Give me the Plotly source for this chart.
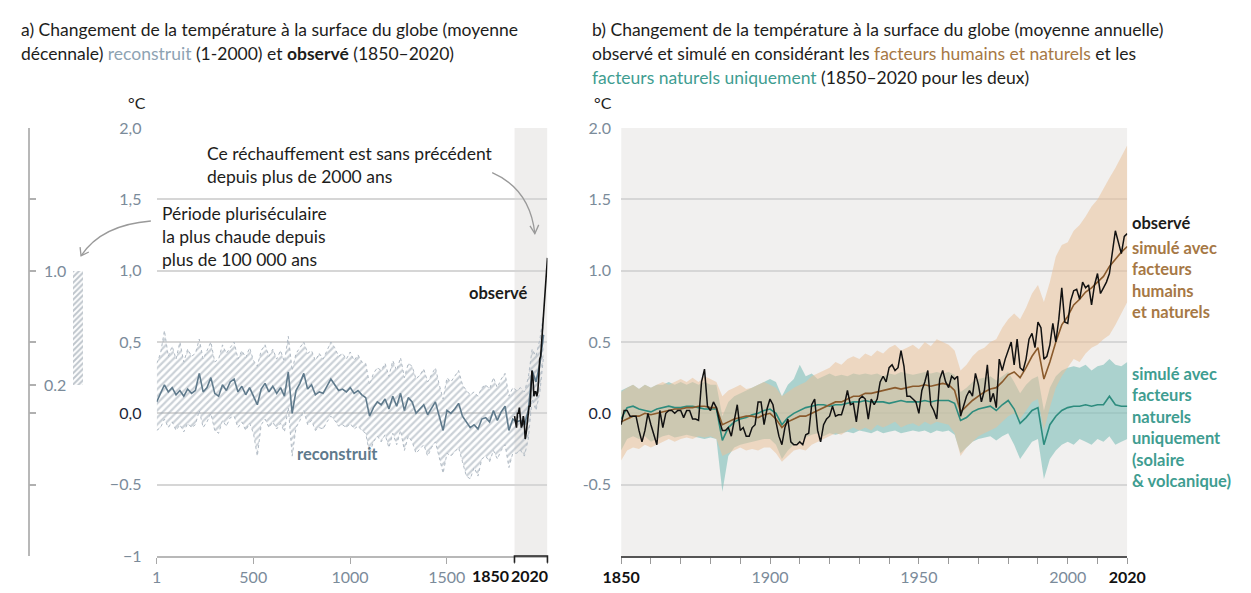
import plotly.graph_objects as go

W, H = 1251, 593
def px(x): return x / W
def py(y): return 1 - y / H

# ---------------- data: panel a (decadal reconstruction) ----------------
recon_years = list(range(1, 1982, 20)) + [2000]
recon_mid = [
    0.08, 0.14, 0.20, 0.15, 0.18, 0.13, 0.16, 0.12, 0.17, 0.14,
    0.16, 0.28, 0.15, 0.18, 0.25, 0.14, 0.12, 0.20, 0.16, 0.22,
    0.24, 0.15, 0.19, 0.13, 0.18, 0.12, 0.06, 0.17, 0.21, 0.15,
    0.19, 0.14, 0.18, 0.12, 0.29, 0.00, 0.16, 0.21, 0.28, 0.17,
    0.20, 0.13, 0.15, 0.14, 0.19, 0.24, 0.20, 0.16, 0.17, 0.15,
    0.18, 0.14, 0.16, 0.13, 0.11, -0.02, 0.04, 0.08, 0.06, 0.10,
    0.03, 0.12, 0.05, 0.14, 0.02, 0.11, 0.08, 0.00, 0.03, 0.06,
    -0.01, 0.04, 0.08, -0.02, -0.12, 0.02, 0.00, 0.03, 0.07, -0.02,
    -0.06, -0.10, -0.08, -0.11, -0.04, -0.03, -0.06, 0.02, -0.05, 0.01,
    0.05, -0.12, -0.04, -0.06, -0.05, -0.08, 0.02, 0.30, 0.22, 0.35,
    0.55]
recon_hi = [
    0.35, 0.42, 0.58, 0.40, 0.47, 0.38, 0.50, 0.36, 0.45, 0.40,
    0.42, 0.52, 0.38, 0.44, 0.50, 0.36, 0.38, 0.48, 0.42, 0.46,
    0.50, 0.38, 0.44, 0.39, 0.46, 0.37, 0.33, 0.44, 0.48, 0.40,
    0.45, 0.38, 0.44, 0.36, 0.54, 0.30, 0.42, 0.46, 0.50, 0.42,
    0.44, 0.37, 0.42, 0.38, 0.44, 0.50, 0.46, 0.40, 0.42, 0.38,
    0.43, 0.37, 0.41, 0.36, 0.35, 0.20, 0.28, 0.32, 0.30, 0.35,
    0.26, 0.37, 0.30, 0.39, 0.25, 0.35, 0.33, 0.24, 0.27, 0.31,
    0.22, 0.27, 0.32, 0.20, 0.10, 0.25, 0.22, 0.26, 0.30, 0.20,
    0.16, 0.13, 0.15, 0.12, 0.18, 0.20, 0.17, 0.25, 0.18, 0.24,
    0.28, 0.12, 0.18, 0.16, 0.18, 0.15, 0.25, 0.45, 0.40, 0.52,
    0.70]
recon_lo = [
    -0.12, -0.10, -0.04, -0.10, -0.06, -0.12, -0.08, -0.13, -0.07, -0.10,
    -0.08, 0.02, -0.10, -0.06, 0.00, -0.12, -0.14, -0.05, -0.09, -0.03,
    -0.02, -0.10, -0.06, -0.12, -0.07, -0.14, -0.30, -0.08, -0.04, -0.10,
    -0.06, -0.11, -0.07, -0.13, 0.04, -0.30, -0.10, -0.05, 0.02, -0.08,
    -0.05, -0.12, -0.10, -0.11, -0.06, -0.02, -0.05, -0.09, -0.08, -0.10,
    -0.07, -0.11, -0.09, -0.12, -0.14, -0.28, -0.20, -0.16, -0.20, -0.15,
    -0.24, -0.14, -0.22, -0.12, -0.26, -0.16, -0.20, -0.28, -0.25, -0.22,
    -0.30, -0.24, -0.20, -0.32, -0.42, -0.28, -0.30, -0.27, -0.24, -0.34,
    -0.44, -0.46, -0.38, -0.44, -0.32, -0.30, -0.34, -0.26, -0.32, -0.26,
    -0.22, -0.38, -0.28, -0.28, -0.26, -0.30, -0.18, 0.10, 0.02, 0.15,
    0.40]

obs_dec_years = list(range(1850, 2021, 5))
obs_dec = [
    -0.02, -0.06, -0.10, 0.00, 0.00, 0.04, -0.02, -0.10, -0.08, -0.02,
    -0.06, -0.18, -0.14, -0.08, 0.00, 0.05, 0.05, 0.15, 0.30, 0.25,
    0.12, 0.15, 0.15, 0.12, 0.15, 0.25, 0.38, 0.40, 0.50, 0.60,
    0.72, 0.85, 0.92, 1.05, 1.09]

# paleo range bar (warmest multi-century period)
paleo_low, paleo_high = 0.2, 1.0

# ---------------- data: panel b (annual) ----------------
obs_years = list(range(1850, 2021))
obs_annual = [
    -0.08, 0.02, 0.02, -0.02, -0.02, -0.02, -0.12, -0.20, -0.12, 0.00,
    -0.08, -0.15, -0.22, 0.02, -0.10, 0.00, 0.02, 0.02, 0.00, 0.02,
    0.02, -0.03, 0.02, 0.02, -0.04, -0.04, -0.05, 0.22, 0.31, 0.05,
    0.02, 0.08, 0.04, -0.05, -0.12, -0.12, -0.10, -0.16, -0.06, 0.06,
    -0.12, -0.10, -0.16, -0.16, -0.10, -0.08, 0.08, 0.08, -0.08, 0.03,
    0.10, 0.06, -0.06, -0.16, -0.22, -0.10, -0.04, -0.20, -0.22, -0.22,
    -0.20, -0.22, -0.15, -0.14, 0.06, 0.10, -0.12, -0.20, -0.08, -0.04,
    -0.02, 0.05, -0.02, -0.01, -0.01, 0.06, 0.16, 0.06, 0.07, -0.06,
    0.10, 0.12, 0.10, -0.04, 0.10, 0.06, 0.10, 0.22, 0.26, 0.22,
    0.32, 0.34, 0.30, 0.32, 0.44, 0.33, 0.12, 0.12, 0.10, 0.08,
    0.00, 0.16, 0.22, 0.30, 0.06, 0.02, -0.04, 0.24, 0.30, 0.22,
    0.18, 0.26, 0.24, 0.26, -0.02, 0.06, 0.12, 0.16, 0.12, 0.28,
    0.20, 0.08, 0.16, 0.34, 0.08, 0.14, 0.04, 0.38, 0.30, 0.38,
    0.44, 0.50, 0.34, 0.52, 0.32, 0.30, 0.38, 0.52, 0.56, 0.46,
    0.64, 0.60, 0.38, 0.40, 0.48, 0.63, 0.50, 0.66, 0.88, 0.64,
    0.63, 0.79, 0.86, 0.87, 0.80, 0.92, 0.88, 0.90, 0.76, 0.90,
    0.98, 0.84, 0.88, 0.92, 0.98, 1.13, 1.28, 1.20, 1.12, 1.24,
    1.26]

sim_years = list(range(1850, 2021, 2))
hn_mid = [
    -0.06, -0.04, -0.02, -0.02, 0.00, -0.01, 0.00, 0.01, 0.02, 0.03,
    0.03, 0.04, 0.04, 0.05, 0.05, 0.04, 0.04, -0.08, -0.06, -0.04,
    -0.03, -0.02, -0.02, -0.03, -0.01, 0.00, -0.04, -0.10, -0.06, -0.04,
    -0.02, -0.02, 0.00, 0.02, 0.04, 0.06, 0.08, 0.08, 0.10, 0.12,
    0.12, 0.14, 0.14, 0.15, 0.16, 0.17, 0.18, 0.17, 0.18, 0.19,
    0.19, 0.20, 0.19, 0.20, 0.21, 0.20, 0.16, 0.01, 0.05, 0.09,
    0.12, 0.15, 0.17, 0.18, 0.22, 0.27, 0.29, 0.25, 0.32, 0.40,
    0.46, 0.24, 0.36, 0.50, 0.62, 0.68, 0.76, 0.80, 0.85, 0.88,
    0.92, 0.96, 1.03, 1.08, 1.13, 1.17]
hn_hi = [
    0.15, 0.18, 0.20, 0.17, 0.20, 0.18, 0.20, 0.22, 0.20, 0.22,
    0.24, 0.22, 0.25, 0.22, 0.26, 0.24, 0.22, 0.12, 0.16, 0.18,
    0.20, 0.17, 0.18, 0.20, 0.22, 0.20, 0.18, 0.12, 0.15, 0.18,
    0.20, 0.22, 0.26, 0.28, 0.30, 0.32, 0.36, 0.34, 0.38, 0.40,
    0.38, 0.42, 0.40, 0.44, 0.42, 0.46, 0.48, 0.44, 0.46, 0.48,
    0.45, 0.50, 0.47, 0.52, 0.50, 0.48, 0.44, 0.30, 0.34, 0.40,
    0.44, 0.46, 0.50, 0.52, 0.60, 0.66, 0.70, 0.66, 0.74, 0.84,
    0.90, 0.78, 0.92, 1.10, 1.18, 1.20, 1.28, 1.32, 1.38, 1.45,
    1.50, 1.58, 1.65, 1.72, 1.80, 1.88]
hn_lo = [
    -0.33, -0.26, -0.24, -0.25, -0.22, -0.24, -0.22, -0.20, -0.18, -0.20,
    -0.18, -0.17, -0.18, -0.16, -0.17, -0.16, -0.18, -0.30, -0.28, -0.26,
    -0.24, -0.26, -0.25, -0.26, -0.24, -0.24, -0.28, -0.34, -0.30, -0.26,
    -0.25, -0.26, -0.22, -0.20, -0.18, -0.16, -0.14, -0.15, -0.12, -0.10,
    -0.12, -0.10, -0.12, -0.08, -0.10, -0.08, -0.06, -0.10, -0.08, -0.07,
    -0.09, -0.06, -0.08, -0.06, -0.07, -0.08, -0.14, -0.30, -0.24, -0.20,
    -0.16, -0.14, -0.12, -0.10, -0.06, -0.02, 0.00, -0.04, 0.02, 0.08,
    0.10, -0.12, 0.04, 0.18, 0.26, 0.32, 0.38, 0.36, 0.42, 0.46,
    0.48, 0.52, 0.55, 0.62, 0.70, 0.78]
nat_mid = [
    -0.04, 0.04, 0.05, 0.03, 0.02, 0.01, 0.03, 0.04, 0.05, 0.04,
    0.04, 0.05, 0.05, 0.04, 0.03, 0.03, 0.03, -0.19, -0.10, -0.06,
    -0.04, -0.03, -0.01, 0.00, 0.02, 0.03, 0.00, -0.08, -0.03, 0.00,
    0.02, 0.04, 0.05, 0.06, 0.06, 0.05, 0.06, 0.06, 0.07, 0.08,
    0.08, 0.09, 0.08, 0.08, 0.08, 0.07, 0.08, 0.09, 0.08, 0.08,
    0.08, 0.09, 0.08, 0.09, 0.09, 0.09, 0.07, -0.05, -0.03, 0.01,
    0.03, 0.04, 0.05, 0.02, 0.06, 0.09, 0.03, -0.07, -0.03, 0.02,
    0.04, -0.22, -0.08, -0.02, 0.02, 0.04, 0.05, 0.05, 0.06, 0.05,
    0.06, 0.06, 0.12, 0.06, 0.05, 0.05]
nat_hi = [
    0.16, 0.18, 0.20, 0.17, 0.20, 0.18, 0.20, 0.20, 0.22, 0.20,
    0.22, 0.20, 0.22, 0.20, 0.22, 0.20, 0.20, -0.02, 0.08, 0.12,
    0.14, 0.16, 0.18, 0.20, 0.22, 0.24, 0.22, 0.12, 0.20, 0.24,
    0.34, 0.26, 0.28, 0.24, 0.26, 0.28, 0.26, 0.27, 0.26, 0.28,
    0.27, 0.28, 0.27, 0.28, 0.26, 0.28, 0.27, 0.29, 0.28, 0.27,
    0.28, 0.29, 0.28, 0.29, 0.28, 0.29, 0.27, 0.15, 0.18, 0.22,
    0.24, 0.25, 0.26, 0.23, 0.26, 0.29, 0.22, 0.14, 0.20, 0.24,
    0.26, 0.02, 0.18, 0.26, 0.30, 0.32, 0.33, 0.32, 0.34, 0.30,
    0.33, 0.34, 0.38, 0.34, 0.33, 0.36]
nat_lo = [
    -0.26, -0.18, -0.16, -0.18, -0.16, -0.20, -0.18, -0.16, -0.15, -0.17,
    -0.16, -0.15, -0.16, -0.17, -0.18, -0.17, -0.18, -0.55, -0.30, -0.24,
    -0.22, -0.21, -0.20, -0.19, -0.18, -0.18, -0.22, -0.32, -0.26, -0.22,
    -0.20, -0.17, -0.15, -0.14, -0.16, -0.14, -0.15, -0.14, -0.13, -0.14,
    -0.12, -0.13, -0.14, -0.12, -0.14, -0.13, -0.12, -0.14, -0.13, -0.12,
    -0.13, -0.12, -0.14, -0.12, -0.13, -0.12, -0.15, -0.28, -0.24, -0.20,
    -0.18, -0.17, -0.16, -0.19, -0.16, -0.14, -0.22, -0.32, -0.26, -0.20,
    -0.18, -0.46, -0.32, -0.26, -0.22, -0.20, -0.22, -0.18, -0.20, -0.22,
    -0.18, -0.20, -0.16, -0.22, -0.20, -0.18]

# tick labels
left_y_vals = [2, 1.5, 1, 0.5, 0, -0.5, -1]
left_y_text = ["2,0", "1,5", "1,0", "0,5", "0,0", "\u22120.5", "\u22121"]
right_y_vals = [2, 1.5, 1, 0.5, 0, -0.5]
right_y_text = ["2.0", "1.5", "1.0", "0.5", "0.0", "-0.5"]
left_x_vals = [1, 500, 1000, 1500, 1850, 2020]
left_x_text = ["1", "500", "1000", "1500", "", ""]
left_x_bold = ["1850", "2020"]
right_x_vals = list(range(1850, 2021, 10))
right_x_labels = {1850: "1850", 1900: "1900", 1950: "1950", 2000: "2000", 2020: "2020"}

# ---------------- styling ----------------
FONT = "Lato"
TXT = "#1d1d1b"
TICK = "#7b8b9a"
DARK0 = "#1b2638"
RECON = "#5f7a8c"
RECON_LIGHT = "#8ea3b3"
BROWN_LINE = "#8a5a2c"
BROWN_TXT = "#a67845"
TEAL_LINE = "#2d8c7e"
TEAL_TXT = "#3f9d91"
GRID = "#d6d6d6"

fig = go.Figure()

fig.add_trace(go.Scatter(x=recon_years, y=recon_hi, mode="lines",
                         line=dict(color="#b0bac4", width=1, dash="dot"),
                         hoverinfo="skip", showlegend=False, xaxis="x", yaxis="y"))
fig.add_trace(go.Scatter(x=recon_years, y=recon_lo, mode="lines",
                         line=dict(color="#b0bac4", width=1, dash="dot"),
                         fill="tonexty", fillcolor="rgba(0,0,0,0)",
                         fillpattern=dict(shape="/", fgcolor="#97a4b0", bgcolor="rgba(255,255,255,0)",
                                          size=5, solidity=0.45),
                         hoverinfo="skip", showlegend=False, xaxis="x", yaxis="y"))
fig.add_trace(go.Scatter(x=recon_years, y=recon_mid, mode="lines",
                         line=dict(color=RECON, width=1.6), showlegend=False,
                         xaxis="x", yaxis="y"))
fig.add_trace(go.Scatter(x=obs_dec_years, y=obs_dec, mode="lines",
                         line=dict(color="#111111", width=1.6), showlegend=False,
                         xaxis="x", yaxis="y"))

fig.add_trace(go.Bar(x=[49.5], y=[paleo_high - paleo_low], base=[paleo_low], width=[11],
                     marker=dict(color="rgba(0,0,0,0)", line=dict(width=0),
                                 pattern=dict(shape="/", fgcolor="#7e8c99", bgcolor="white",
                                              size=4, solidity=0.5)),
                     showlegend=False, xaxis="x3", yaxis="y3"))

fig.add_trace(go.Scatter(x=sim_years, y=nat_hi, mode="lines", line=dict(width=0),
                         hoverinfo="skip", showlegend=False, xaxis="x2", yaxis="y2"))
fig.add_trace(go.Scatter(x=sim_years, y=nat_lo, mode="lines", line=dict(width=0),
                         fill="tonexty", fillcolor="rgba(125,190,183,0.6)",
                         hoverinfo="skip", showlegend=False, xaxis="x2", yaxis="y2"))
fig.add_trace(go.Scatter(x=sim_years, y=hn_hi, mode="lines", line=dict(width=0),
                         hoverinfo="skip", showlegend=False, xaxis="x2", yaxis="y2"))
fig.add_trace(go.Scatter(x=sim_years, y=hn_lo, mode="lines", line=dict(width=0),
                         fill="tonexty", fillcolor="rgba(234,192,152,0.52)",
                         hoverinfo="skip", showlegend=False, xaxis="x2", yaxis="y2"))
fig.add_trace(go.Scatter(x=sim_years, y=nat_mid, mode="lines",
                         line=dict(color=TEAL_LINE, width=1.6), showlegend=False,
                         xaxis="x2", yaxis="y2"))
fig.add_trace(go.Scatter(x=sim_years, y=hn_mid, mode="lines",
                         line=dict(color=BROWN_LINE, width=1.6), showlegend=False,
                         xaxis="x2", yaxis="y2"))
fig.add_trace(go.Scatter(x=obs_years, y=obs_annual, mode="lines",
                         line=dict(color="#111111", width=1.5), showlegend=False,
                         xaxis="x2", yaxis="y2"))

ydom = [py(564), py(122)]

def col(t, c):
    return f'<span style="color:{c}">{t}</span>'

left_y_ticktext = [col(t, DARK0) if v == 0 else t for v, t in zip(left_y_vals, left_y_text)]
right_y_ticktext = [col(t, DARK0) if v == 0 else t for v, t in zip(right_y_vals, right_y_text)]
right_x_ticktext = []
for v in right_x_vals:
    if v in (1850, 2020):
        right_x_ticktext.append("<b>%s</b>" % col(str(v), "#111111"))
    else:
        right_x_ticktext.append(right_x_labels.get(v, ""))

tickfont = dict(family=FONT, size=16, color=TICK)

fig.update_layout(
    width=W, height=H, margin=dict(l=0, r=0, t=0, b=0, pad=0), autosize=False,
    paper_bgcolor="white", plot_bgcolor="rgba(0,0,0,0)",
    font=dict(family=FONT, color=TXT),
    showlegend=False, bargap=0,
    xaxis=dict(domain=[px(142), px(545)], range=[1, 2020], showgrid=False, zeroline=False,
               tickvals=left_x_vals, ticktext=left_x_text, tickfont=tickfont, tickangle=0,
               ticks="outside", ticklen=6, tickcolor="#a8a8a8", tickwidth=1.2,
               showline=True, linecolor="#b8b8b8", linewidth=1.5, anchor="y"),
    yaxis=dict(domain=ydom, range=[-1, 2], showgrid=True, gridcolor=GRID, gridwidth=2,
               zeroline=False, tickvals=left_y_vals, ticktext=left_y_ticktext, tickfont=tickfont,
               ticks="outside", ticklen=11, tickcolor="rgba(0,0,0,0)", anchor="x",
               showline=False),
    xaxis2=dict(domain=[px(621), px(1143)], range=[1850, 2020], showgrid=False, zeroline=False,
                tickvals=right_x_vals, ticktext=right_x_ticktext, tickfont=tickfont, tickangle=0,
                ticks="outside", ticklen=6, tickcolor="#9a9a9a", tickwidth=1.2,
                showline=True, linecolor="#555555", linewidth=2, anchor="y2"),
    yaxis2=dict(domain=ydom, range=[-1, 2], showgrid=True, gridcolor=GRID, gridwidth=2,
                zeroline=False, tickvals=right_y_vals, ticktext=right_y_ticktext, tickfont=tickfont,
                ticks="outside", ticklen=6, tickcolor="rgba(0,0,0,0)", anchor="x2",
                showline=False),
    xaxis3=dict(domain=[px(11), px(71)], range=[0, 60], visible=False, anchor="y3"),
    yaxis3=dict(domain=ydom, range=[-1, 2], showgrid=False, zeroline=False,
                tickvals=[2, 1.5, 1, 0.5, 0.2, 0, -0.5, -1], showticklabels=False,
                ticks="inside", ticklen=7, tickcolor="#b0b0b0", tickwidth=1.5,
                showline=True, linecolor="#b8b8b8", linewidth=1.5, anchor="x3"),
)

shapes = [
    dict(type="rect", xref="x", yref="y domain", x0=1850, x1=2020, y0=0, y1=1,
         fillcolor="#efeeed", line=dict(width=0), layer="below"),
    dict(type="rect", xref="x2", yref="y2 domain", x0=1850, x1=2020, y0=0, y1=1,
         fillcolor="#f1f0ef", line=dict(width=0), layer="below"),
    dict(type="path", xref="paper", yref="paper",
         path=f"M {px(511)},{py(571)} L {px(511)},{py(564)} L {px(545)},{py(564)} L {px(545)},{py(571)}",
         line=dict(color="#222222", width=1.6)),
    dict(type="path", xref="paper", yref="paper",
         path=f"M {px(488)},{py(168)} Q {px(527)},{py(185)} {px(532)},{py(231)}",
         line=dict(color="#9a9a9a", width=1.3)),
    dict(type="path", xref="paper", yref="paper",
         path=f"M {px(527)},{py(223)} L {px(532)},{py(231)} L {px(536)},{py(222)}",
         line=dict(color="#9a9a9a", width=1.3)),
    dict(type="path", xref="paper", yref="paper",
         path=f"M {px(136)},{py(218)} Q {px(85)},{py(222)} {px(64)},{py(254)}",
         line=dict(color="#9a9a9a", width=1.3)),
    dict(type="path", xref="paper", yref="paper",
         path=f"M {px(63)},{py(245)} L {px(64)},{py(254)} L {px(72)},{py(250)}",
         line=dict(color="#9a9a9a", width=1.3)),
]
fig.update_layout(shapes=shapes)

def ann(text, x, y, size=16, color=TXT, xanchor="left", yanchor="middle", align="left"):
    return dict(text=text, x=px(x), y=py(y), xref="paper", yref="paper", showarrow=False,
                xanchor=xanchor, yanchor=yanchor, align=align,
                font=dict(family=FONT, size=size, color=color))

TS = 17.5
annotations = [
    ann("a) Changement de la température à la surface du globe (moyenne", 0, 20, size=TS),
    ann("décennale) " + col("reconstruit", RECON_LIGHT) + " (1-2000) et <b>observé</b> (1850–2020)", 0, 45, size=TS),
    ann("b) Changement de la température à la surface du globe (moyenne annuelle)", 589, 20, size=TS),
    ann("observé et simulé en considérant les " + col("facteurs humains et naturels", BROWN_TXT) + " et les", 589, 45, size=TS),
    ann(col("facteurs naturels uniquement", TEAL_TXT) + " (1850–2020 pour les deux)", 589, 70, size=TS),
    ann("°C", 110, 96, size=16),
    ann("°C", 591, 96, size=16),
    ann("Ce réchauffement est sans précédent<br>depuis plus de 2000 ans", 192, 160, size=17.5),
    ann("Période pluriséculaire<br>la plus chaude depuis<br>plus de 100 000 ans", 145, 234, size=17.5),
    ann("<b>observé</b>", 527, 292, size=16.5, xanchor="right"),
    ann("<b>reconstruit</b>", 285, 459, size=16.5, color=RECON),
    ann("<b>observé</b>", 1146, 220, size=16.5),
    ann("<b>simulé avec<br>facteurs<br>humains<br>et naturels</b>", 1146, 279, size=16.5, color=BROWN_TXT),
    ann("<b>simulé avec<br>facteurs<br>naturels<br>uniquement<br>(solaire<br>&amp; volcanique)</b>", 1146, 431,
        size=16.5, color=TEAL_TXT),
    ann("<b>%s</b>" % left_x_bold[0], 507, 584, size=16, color="#111111", xanchor="right"),
    ann("<b>%s</b>" % left_x_bold[1], 548, 584, size=16, color="#111111", xanchor="right"),
    dict(text="1.0", x=26, y=1.0, xref="x3", yref="y3", showarrow=False,
         font=dict(family=FONT, size=16, color=TICK)),
    dict(text="0.2", x=26, y=0.2, xref="x3", yref="y3", showarrow=False,
         font=dict(family=FONT, size=16, color=TICK)),
]
fig.update_layout(annotations=annotations)

post = """
var s = document.createElement('style');
s.textContent = 'html,body{margin:0!important;padding:0!important;overflow:hidden!important;width:1251px;height:593px;}'
 + '.plotly-graph-div{position:fixed!important;left:0!important;top:0!important;}';
document.head.appendChild(s);
"""
fig.write_html("out.html", config={"displayModeBar": False}, post_script=post)
